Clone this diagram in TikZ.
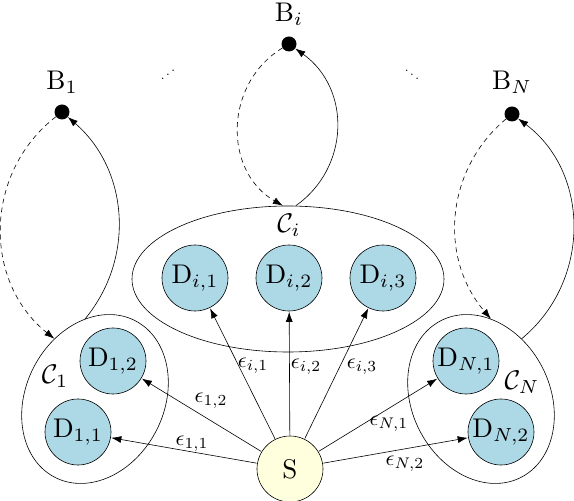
\documentclass[tikz,border=0pt]{standalone}
\usepackage{graphicx}
\usetikzlibrary{shapes.geometric,arrows.meta}
\definecolor{dblue}{RGB}{173,216,230}
\definecolor{syellow}{RGB}{255,255,221}
\tikzset{
  dnode/.style={circle, draw, line width=0.6pt, fill=dblue, minimum size=24.45pt, inner sep=0pt, font=\normalsize, scale=2.7},
  snode/.style={dnode, fill=syellow},
  bdot/.style={circle, fill=black, minimum size=15pt, inner sep=0pt},
  clus/.style={ellipse, draw, line width=0.6pt, inner sep=0pt},
  txt/.style={font=\normalsize, inner sep=0pt, scale=2.7},
  lab/.style={font=\normalsize, inner sep=0pt, scale=2.2},
  arr/.style={line width=0.6pt, -{Latex[length=10pt,width=7pt]}},
  darr/.style={arr, dashed, dash pattern=on 5pt off 4pt}
}
\begin{document}
\begin{tikzpicture}[x=1pt,y=1pt]
\useasboundingbox (0,0) rectangle (574,501);
% clusters
\node[clus, minimum width=138pt, minimum height=176pt, rotate=-27] (C1) at (95,102) {};
\node[clus, minimum width=138pt, minimum height=176pt, rotate=27] (CN) at (481,102) {};
\node[clus, minimum width=312pt, minimum height=146pt] (Ci) at (288,222) {};
% cluster labels
\node[txt] (lC1) at (55,125) {$\mathcal{C}_1$};
\node[txt] (lCi) at (289,276) {$\mathcal{C}_i$};
\node[txt] (lCN) at (522,119) {$\mathcal{C}_N$};
% devices
\node[dnode] (D12) at (113,140) {D$_{1,2}$};
\node[dnode] (D11) at (78,69) {D$_{1,1}$};
\node[dnode] (Di1) at (195,223) {D$_{i,1}$};
\node[dnode] (Di2) at (289,223) {D$_{i,2}$};
\node[dnode] (Di3) at (383,223) {D$_{i,3}$};
\node[dnode] (DN1) at (466,140) {D$_{N,1}$};
\node[dnode] (DN2) at (501,69) {D$_{N,2}$};
\node[snode] (S) at (290,32) {S};
% B nodes
\node[bdot] (B1) at (62,389) {};
\node[bdot] (Bi) at (289,457) {};
\node[bdot] (BN) at (512,387) {};
\node[txt] (lB1) at (62,419) {B$_1$};
\node[txt] (lBi) at (289,487) {B$_i$};
\node[txt] (lBN) at (512,419) {B$_N$};
\node[inner sep=0pt, scale=1.35] (dotsL) at (168,430) {\reflectbox{$\ddots$}};
\node[inner sep=0pt, scale=1.35] (dotsR) at (412,430) {$\ddots$};
% S to devices
\draw[arr] (S) -- (D11) node[lab] (e11) at (192,57) {$\epsilon_{1,1}$};
\draw[arr] (S) -- (D12) node[lab] (e12) at (211,100) {$\epsilon_{1,2}$};
\draw[arr] (S) -- (Di1) node[lab] (ei1) at (253,135) {$\epsilon_{i,1}$};
\draw[arr] (S) -- (Di2) node[lab] (ei2) at (306,134) {$\epsilon_{i,2}$};
\draw[arr] (S) -- (Di3) node[lab] (ei3) at (362,134) {$\epsilon_{i,3}$};
\draw[arr] (S) -- (DN1) node[lab] (eN1) at (389,77) {$\epsilon_{N,1}$};
\draw[arr] (S) -- (DN2) node[lab] (eN2) at (405,37) {$\epsilon_{N,2}$};
% B <-> clusters
\draw[darr] (B1) .. controls (-16.5,328) and (-17,219.5) .. (C1.151);
\draw[arr] (C1.124) .. controls (136,244) and (128,332) .. (B1);
\draw[darr] (Bi) .. controls (224,417.5) and (223,330) .. (Ci.94);
\draw[arr] (Ci.84.5) .. controls (349.6,333) and (351.6,412) .. (Bi);
\draw[darr] (BN) .. controls (446,332) and (438,244) .. (CN.56);
\draw[arr] (CN.29) .. controls (591,219.5) and (590.5,328) .. (BN);
\end{tikzpicture}
\end{document}
